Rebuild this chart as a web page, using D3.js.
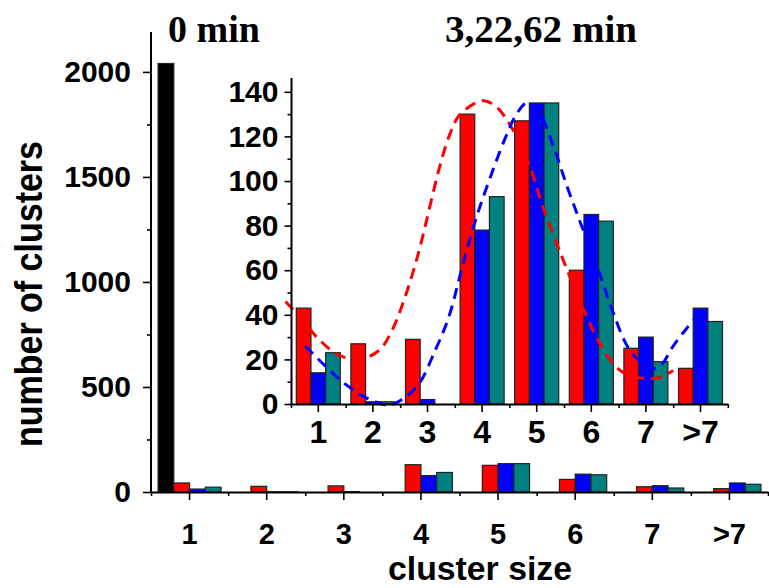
<!DOCTYPE html>
<html>
<head>
<meta charset="utf-8">
<script src="https://cdn.jsdelivr.net/npm/d3@7"></script>
<style>
body { margin: 0; background: #fff; }
svg text { fill: #000; }
.axis text { font-family: "Liberation Sans", Arial, sans-serif; font-weight: bold; font-size: 30px; }
.axis .domain { stroke: #000; stroke-width: 2; }
.axis line { stroke: #000; stroke-width: 1.6; }
#inset_x text { font-size: 32px; }
#main_x text { font-size: 29px; }
</style>
</head>
<body>
<div id="chart_container"></div>
<script>
// cluster size categories
var categories = ["1", "2", "3", "4", "5", "6", "7", ">7"];
var seriesNames = ["0 min", "3 min", "22 min", "62 min"];
var seriesColors = ["#000000", "#ff0000", "#0000ff", "#008080"];

// number of clusters
var counts0 = [2040, 0, 0, 0, 0, 0, 0, 0];
var counts3 = [43, 27, 29, 130, 127, 60, 25, 16];
var counts22 = [14, 1, 2, 78, 135, 85, 30, 43];
var counts62 = [23, 1, 0, 93, 135, 82, 19, 37];

// dashed fit curves in the inset (x in category units, y in counts)
var fit3X = [0.40, 0.70, 1.01, 1.37, 1.74, 2.11, 2.35, 2.59, 2.78, 2.90, 3.23, 3.41, 3.60, 4.02, 4.27, 4.54, 4.88, 5.12, 5.43, 5.61, 5.92, 6.16, 6.53, 6.95, 7.26, 7.50];
var fit3Y = [46, 38, 29, 22, 20, 24, 33, 48, 63, 74, 107, 121, 130, 136, 133, 124, 106, 88, 68, 57, 39, 27, 15, 11.5, 12, 15];
var fit22X = [0.76, 1.13, 1.49, 1.86, 2.29, 2.53, 2.84, 3.14, 3.39, 3.60, 3.72, 3.90, 4.14, 4.42, 4.63, 4.82, 5.06, 5.30, 5.55, 5.79, 6.01, 6.16, 6.40, 6.71, 7.08, 7.26, 7.50, 7.75, 7.93];
var fit22Y = [26, 17, 9, 3, -0.5, 2, 9, 24, 39, 58, 69, 84, 101, 119, 130, 135, 130, 116, 98, 82, 68, 58, 41, 24, 16, 17, 26, 34, 39];

var mainTicks = [0, 500, 1000, 1500, 2000];
var mainMinor = [250, 750, 1250, 1750];
var insetTicks = [0, 20, 40, 60, 80, 100, 120, 140];
var insetMinor = [10, 30, 50, 70, 90, 110, 130];

var svg = d3.select("#chart_container").append("svg")
    .attr("width", 769)
    .attr("height", 588);

var rows = categories.map(function(c, i) {
    return {cat: c, values: [counts0[i], counts3[i], counts22[i], counts62[i]]};
});

// ---------- main chart ----------
var xMain = d3.scaleBand().domain(categories).range([151, 768]);
var xMainLin = d3.scaleLinear().domain([0.5, 8.5]).range([151, 768]);
var yMain = d3.scaleLinear().domain([0, 2190]).range([492, 32]);
var slotMain = d3.scaleBand().domain([0, 1, 2, 3]).range([-31.5, 31.5]);

var main = svg.append("g").attr("id", "main");

main.selectAll("g.group")
    .data(rows)
    .enter().append("g")
    .attr("class", "group")
    .attr("transform", function(d) { return "translate(" + (xMain(d.cat) + xMain.bandwidth() / 2) + ",0)"; })
    .selectAll("rect")
    .data(function(d) { return d.values.map(function(v, k) { return {v: v, k: k}; }).filter(function(e) { return e.v > 0; }); })
    .enter().append("rect")
    .attr("x", function(d) { return slotMain(d.k); })
    .attr("width", slotMain.bandwidth())
    .attr("y", function(d) { return yMain(d.v); })
    .attr("height", function(d) { return yMain(0) - yMain(d.v); })
    .attr("fill", function(d) { return seriesColors[d.k]; })
    .attr("stroke", "#222")
    .attr("stroke-width", 1.2);

var mainY = main.append("g").attr("class", "axis").attr("transform", "translate(151,0)")
    .call(d3.axisLeft(yMain).tickValues(mainTicks).tickFormat(d3.format("d")).tickSize(8).tickSizeOuter(0).tickPadding(12));
mainY.select(".domain").remove();
main.append("g").attr("class", "axis").attr("transform", "translate(151,0)")
    .call(d3.axisLeft(yMain).tickValues(mainMinor).tickSize(4).tickSizeOuter(0).tickFormat(""))
    .select(".domain").remove();
main.append("line")
    .attr("x1", 151).attr("x2", 151).attr("y1", 32).attr("y2", 493)
    .attr("stroke", "#000").attr("stroke-width", 2);

var mainX = main.append("g").attr("class", "axis").attr("id", "main_x").attr("transform", "translate(0,492)")
    .call(d3.axisBottom(xMain).tickSize(8).tickSizeOuter(0));
mainX.selectAll("text").attr("dy", null).attr("y", 52);
main.append("g").attr("class", "axis").attr("transform", "translate(0,492)")
    .call(d3.axisBottom(xMainLin).tickValues(d3.range(0.5, 8.6, 1)).tickSize(4).tickSizeOuter(0).tickFormat(""))
    .select(".domain").remove();

// ---------- inset ----------
var xInset = d3.scaleBand().domain(categories).range([291, 727.8]);
var xInsetLin = d3.scaleLinear().domain([0.5, 8.5]).range([291, 727.8]);
var yInset = d3.scaleLinear().domain([0, 146.2]).range([404, 78]);
var slotInset = d3.scaleBand().domain([1, 2, 3]).range([-22, 22]);

var inset = svg.append("g").attr("id", "inset");

inset.selectAll("g.group")
    .data(rows)
    .enter().append("g")
    .attr("class", "group")
    .attr("transform", function(d) { return "translate(" + (xInset(d.cat) + xInset.bandwidth() / 2) + ",0)"; })
    .selectAll("rect")
    .data(function(d) { return d.values.map(function(v, k) { return {v: v, k: k}; }).filter(function(e) { return e.k > 0 && e.v > 0; }); })
    .enter().append("rect")
    .attr("x", function(d) { return slotInset(d.k); })
    .attr("width", slotInset.bandwidth())
    .attr("y", function(d) { return yInset(d.v); })
    .attr("height", function(d) { return yInset(0) - yInset(d.v); })
    .attr("fill", function(d) { return seriesColors[d.k]; })
    .attr("stroke", "#222")
    .attr("stroke-width", 1.2);

var fitLine = d3.line()
    .x(function(d) { return xInsetLin(d[0]); })
    .y(function(d) { return yInset(d[1]); })
    .curve(d3.curveCatmullRom);

inset.append("path")
    .attr("d", fitLine(d3.zip(fit3X, fit3Y)))
    .attr("fill", "none")
    .attr("stroke", "#ff0000")
    .attr("stroke-width", 3)
    .attr("stroke-dasharray", "11,7");
inset.append("path")
    .attr("d", fitLine(d3.zip(fit22X, fit22Y)))
    .attr("fill", "none")
    .attr("stroke", "#0000ff")
    .attr("stroke-width", 3)
    .attr("stroke-dasharray", "11,7");

var insetY = inset.append("g").attr("class", "axis").attr("transform", "translate(291.5,0)")
    .call(d3.axisLeft(yInset).tickValues(insetTicks).tickSize(7).tickSizeOuter(0).tickPadding(6));
insetY.select(".domain").remove();
inset.append("g").attr("class", "axis").attr("transform", "translate(291.5,0)")
    .call(d3.axisLeft(yInset).tickValues(insetMinor).tickSize(4).tickSizeOuter(0).tickFormat(""))
    .select(".domain").remove();
inset.append("line")
    .attr("x1", 291.5).attr("x2", 291.5).attr("y1", 78).attr("y2", 405)
    .attr("stroke", "#000").attr("stroke-width", 2);

var insetX = inset.append("g").attr("class", "axis").attr("id", "inset_x").attr("transform", "translate(0,404)")
    .call(d3.axisBottom(xInset).tickSize(8).tickSizeOuter(0));
insetX.selectAll("text").attr("dy", null).attr("y", 39);
inset.append("g").attr("class", "axis").attr("transform", "translate(0,404)")
    .call(d3.axisBottom(xInsetLin).tickValues(d3.range(0.5, 8.6, 1)).tickSize(4).tickSizeOuter(0).tickFormat(""))
    .select(".domain").remove();

// ---------- titles and axis labels ----------
svg.append("text")
    .attr("x", 168).attr("y", 42)
    .style("font-family", "'Liberation Serif', 'Times New Roman', serif")
    .style("font-weight", "bold").style("font-size", "38px")
    .text(seriesNames[0]);
svg.append("text")
    .attr("x", 445).attr("y", 42)
    .style("font-family", "'Liberation Serif', 'Times New Roman', serif")
    .style("font-weight", "bold").style("font-size", "38px")
    .attr("textLength", 192).attr("lengthAdjust", "spacingAndGlyphs")
    .text("3,22,62 min");

svg.append("text")
    .attr("transform", "translate(42,294) rotate(-90)")
    .attr("text-anchor", "middle")
    .style("font-family", "'Liberation Sans', Arial, sans-serif")
    .style("font-weight", "bold").style("font-size", "39px")
    .attr("textLength", 306).attr("lengthAdjust", "spacingAndGlyphs")
    .text("number of clusters");
svg.append("text")
    .attr("x", 480).attr("y", 580)
    .attr("text-anchor", "middle")
    .style("font-family", "'Liberation Sans', Arial, sans-serif")
    .style("font-weight", "bold").style("font-size", "33px")
    .attr("textLength", 184).attr("lengthAdjust", "spacingAndGlyphs")
    .text("cluster size");
</script>
</body>
</html>
